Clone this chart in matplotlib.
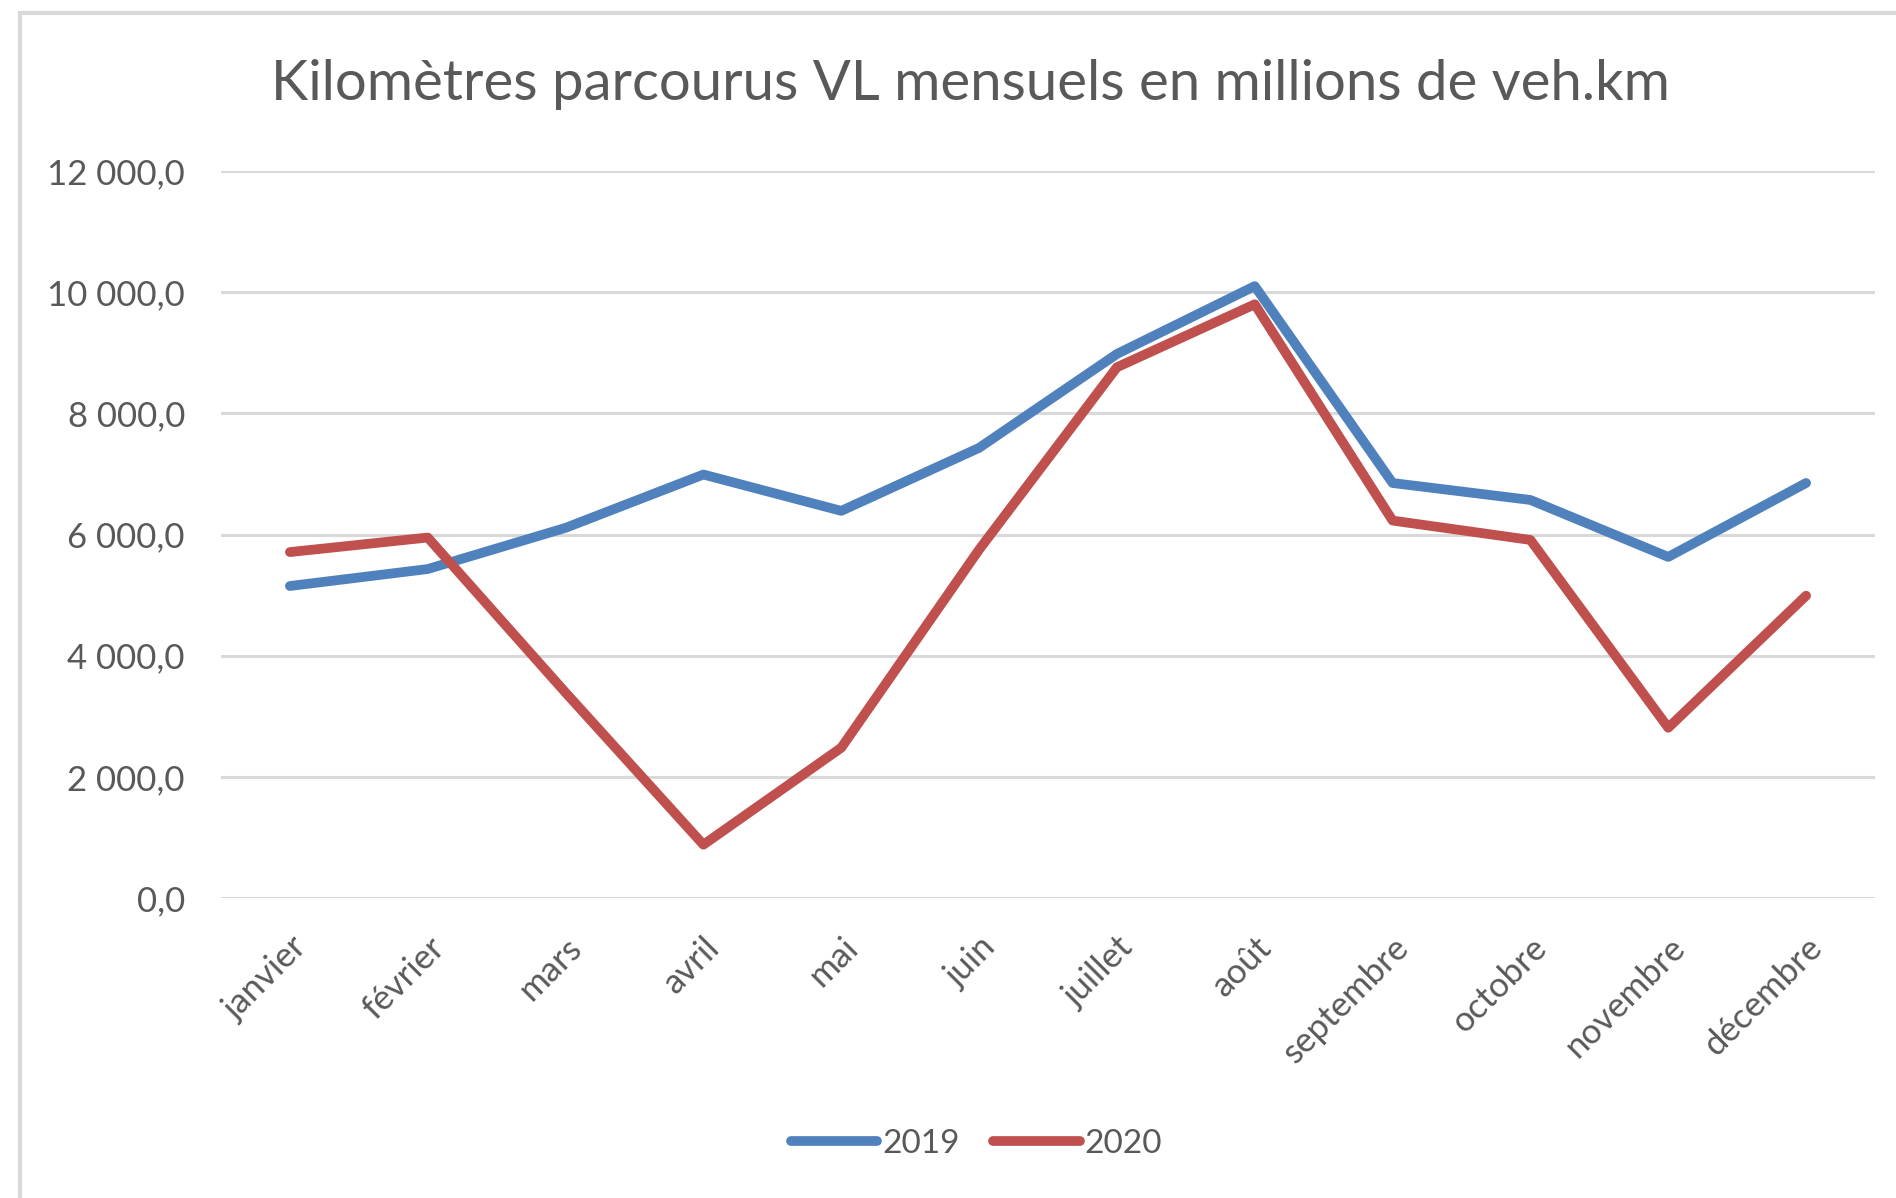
# -*- coding: utf-8 -*-

import matplotlib
matplotlib.use("Agg")
import matplotlib.pyplot as plt
from matplotlib.patches import Rectangle
from matplotlib.ticker import FuncFormatter

# data
MONTHS = ["janvier", "février", "mars", "avril", "mai", "juin",
          "juillet", "août", "septembre", "octobre", "novembre", "décembre"]
KM_2019 = [5150, 5430, 6110, 6990, 6390, 7430, 8980, 10100, 6850, 6570, 5630, 6850]
KM_2020 = [5710, 5950, 3390, 880, 2480, 5750, 8760, 9800, 6230, 5910, 2810, 4990]
YEARS = ["2019", "2020"]

BLUE = "#4F81BD"
RED = "#C0504D"
GREY_TXT = "#595959"
GRID = "#D9D9D9"


def fr_format(v, pos):
    s = f"{v:,.1f}".replace(",", " ").replace(".", ",")
    return s


def main():
    plt.rcParams["font.family"] = ["Lato", "DejaVu Sans"]

    fig = plt.figure(figsize=(18.96, 11.98), dpi=100)
    # chart frame (only top/left visible in the crop)
    fig.patches.append(Rectangle((20 / 1896, -0.1), 1.2, 1 - 13 / 1198 + 0.1,
                                 transform=fig.transFigure, fill=False,
                                 edgecolor=GRID, linewidth=3))

    ax = fig.add_axes([221 / 1896, 1 - 898 / 1198, (1875 - 221) / 1896, (898 - 171) / 1198])

    x = range(len(MONTHS))
    ax.plot(x, KM_2019, color=BLUE, lw=7, solid_capstyle="round",
            solid_joinstyle="round", label=YEARS[0], zorder=3)
    ax.plot(x, KM_2020, color=RED, lw=7, solid_capstyle="round",
            solid_joinstyle="round", label=YEARS[1], zorder=3)

    ax.set_xlim(-0.5, len(MONTHS) - 0.5)
    ax.set_ylim(0, 12000)
    ax.set_yticks(range(0, 12001, 2000))
    ax.yaxis.set_major_formatter(FuncFormatter(fr_format))
    ax.set_xticks(list(x))
    ax.set_xticklabels(MONTHS, rotation=45, ha="right", rotation_mode="anchor")

    ax.grid(axis="y", color=GRID, lw=2.2)
    ax.set_axisbelow(True)
    for s in ax.spines.values():
        s.set_visible(False)
    ax.tick_params(axis="both", length=0, colors=GREY_TXT, labelsize=25)
    ax.tick_params(axis="y", pad=26)
    ax.tick_params(axis="x", pad=24)

    fig.text(0.512, 1 - 85 / 1198, "Kilomètres parcourus VL mensuels en millions de veh.km",
             ha="center", va="center", fontsize=40.5, color=GREY_TXT)

    fig.legend(loc="center", bbox_to_anchor=(0.515, 1 - 1144 / 1198), ncol=2,
               frameon=False, fontsize=24, labelcolor=GREY_TXT,
               handlelength=2.6, handletextpad=0.15, columnspacing=1.0)

    fig.savefig("out.png", dpi=100)


if __name__ == "__main__":
    main()
